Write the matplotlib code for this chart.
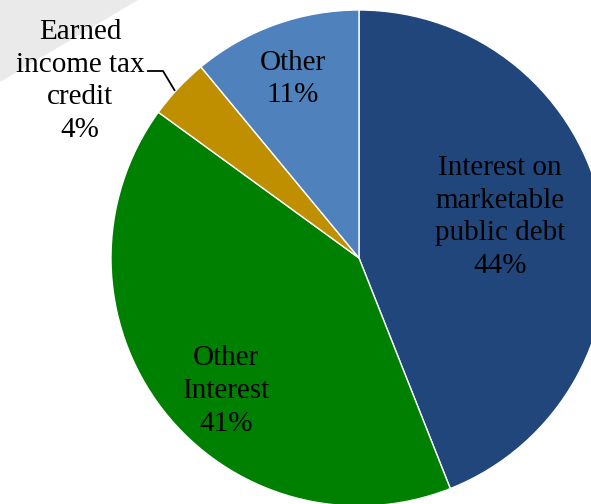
import matplotlib.pyplot as plt
from matplotlib.patches import Polygon

labels = ["Interest on\nmarketable\npublic debt", "Other\nInterest", "Earned\nincome tax\ncredit", "Other"]
shares = [44, 41, 4, 11]
colors = ["#21467c", "#008000", "#bf8f00", "#4f81bd"]

# figure in pixel units, y measured upward
W, H = 591, 504
fig = plt.figure(figsize=(W / 100, H / 100), dpi=100)
ax = fig.add_axes([0, 0, 1, 1])

# faint background mark top-left
ax.add_patch(Polygon([(0, H), (138, H), (0, H - 82)], closed=True,
                     facecolor="#eaeaea", edgecolor="none", zorder=0))

cx, cy, r = 359, H - 258, 248
ax.pie(shares, colors=colors, startangle=90, counterclock=False,
       center=(cx, cy), radius=r, frame=True,
       wedgeprops=dict(edgecolor="white", linewidth=1))
ax.set_xlim(0, W)
ax.set_ylim(0, H)
ax.set_aspect("equal")
ax.axis("off")

font = dict(family="Liberation Serif", fontsize=21, ha="center", va="center",
            linespacing=1.33, color="black")
pos = [(500, H - 217), (226, H - 391), (80, H - 81), (293, H - 79)]
for lab, val, (x, y) in zip(labels, shares, pos):
    ax.text(x, y, f"{lab}\n{val}%", **font)

# leader for the small slice
ax.plot([147, 163, 175], [H - 71, H - 71, H - 91], color="black", lw=1.3,
        solid_capstyle="butt")

fig.savefig("out.png", dpi=100)
